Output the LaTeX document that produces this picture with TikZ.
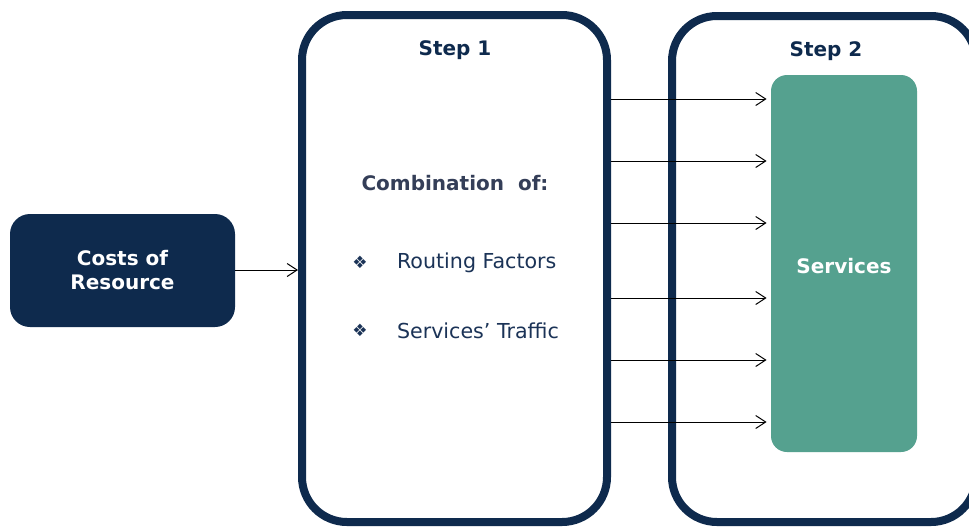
\documentclass[tikz,border=0pt]{standalone}
\usepackage{fontspec}
\setmainfont{DejaVu Sans}
\usetikzlibrary{arrows.meta}
\definecolor{navy}{HTML}{0E2A4D}
\definecolor{servgreen}{HTML}{55A18F}
\definecolor{bodynavy}{HTML}{1B3357}
\definecolor{headgray}{HTML}{343E58}

\begin{document}
\begin{tikzpicture}[
    x=0.5pt, y=-0.5pt,
    every node/.style={font=\fontsize{10}{12}\selectfont},
    stepbox/.style={
      draw=navy,
      line width=4pt,
      rounded corners=22.5pt,
      fill=white
    },
    costbox/.style={
      fill=navy,
      rounded corners=10pt,
      minimum width=112.5pt,
      minimum height=56.5pt,
      align=center,
      text=white,
      font=\fontsize{10}{12}\selectfont\bfseries
    },
    servbox/.style={
      fill=servgreen,
      rounded corners=8pt,
      minimum width=73pt,
      minimum height=188.5pt,
      text=white,
      font=\fontsize{10}{12}\selectfont\bfseries
    },
    heading/.style={text=navy, font=\fontsize{10}{12}\selectfont\bfseries},
    item/.style={text=bodynavy, anchor=west, font=\fontsize{10.3}{12}\selectfont},
    bulletmark/.style={text=bodynavy, font=\fontsize{8.5}{9}\selectfont},
    link/.style={-{Straight Barb[length=5pt,width=6.5pt]}, line width=0.5pt, black}
  ]
    \useasboundingbox (0,0) rectangle (969,527);

    \node (stepone) [stepbox, minimum width=152.5pt, minimum height=253.5pt] at (454.5,268.5) {};
    \node (steptwo) [stepbox, minimum width=152pt, minimum height=253pt] at (824,269) {};

    \node (costs) [costbox] at (122.5,270.5) {Costs of\\Resource};
    \node (services) [servbox] at (844,263.5) {};
    \node (servtext) [heading, text=white] at (844,266) {Services};

    \node (titleone) [heading] at (455,50) {Step 1};
    \node (titletwo) [heading] at (826,51) {Step 2};

    \node (combination) [heading, text=headgray] at (455,183) {Combination\ \ of:};
    \node (markone) [bulletmark] at (360,262) {❖};
    \node (routing) [item] at (390,263) {Routing Factors};
    \node (marktwo) [bulletmark] at (360,330) {❖};
    \node (traffic) [item] at (390,331) {Services’ Traffic};

    \draw [link] (costs.east |- 0,270) -- (stepone.west |- 0,270);
    \foreach \y in {99,161,223,298,360,422}
      \draw [link, shorten >=2pt] (stepone.east |- 0,\y) -- (services.west |- 0,\y);
  \end{tikzpicture}
\end{document}
